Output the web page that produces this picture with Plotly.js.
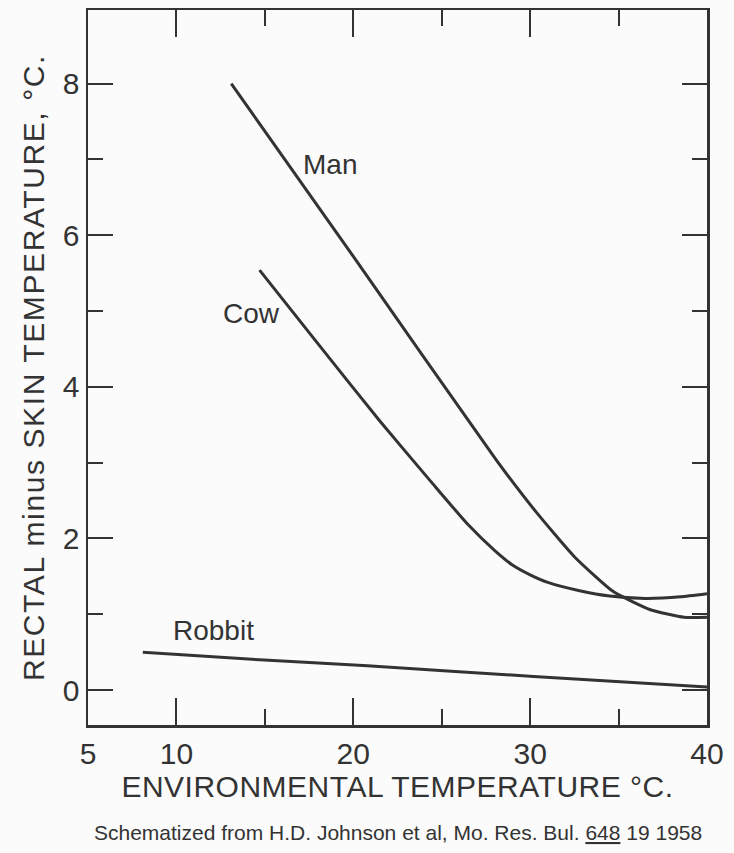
<!DOCTYPE html>
<html>
<head>
<meta charset="utf-8">
<script src="https://cdn.plot.ly/plotly-3.0.1.min.js"></script>
<style>html,body{margin:0;padding:0;background:#fbfbfb;}</style>
</head>
<body>
<div id="chart" style="width:734px;height:853px;"></div>
<script>
// Environmental temperature (°C) and rectal minus skin temperature (°C)
const manX = [13.1, 20.0, 28.1, 30.3, 32.5, 34.7, 36.8, 38.7, 40.0];
const manY = [8.0, 5.72, 3.03, 2.36, 1.76, 1.30, 1.06, 0.96, 0.96];

const cowX = [14.7, 18.1, 21.5, 24.5, 26.5, 28.0, 29.0, 30.0, 31.0, 32.8, 34.5, 36.5, 38.5, 40.0];
const cowY = [5.54, 4.54, 3.55, 2.72, 2.18, 1.84, 1.65, 1.52, 1.42, 1.31, 1.24, 1.21, 1.23, 1.27];

const rabbitX = [8.1, 14.7, 20.8, 30.2, 40.0];
const rabbitY = [0.50, 0.40, 0.32, 0.18, 0.04];

const xTickVals = [5, 10, 20, 30, 40];
const xTickText = ['5', '10', '20', '30', '40'];
const xMinorVals = [15, 25, 35];
const yTickVals = [0, 2, 4, 6, 8];
const yTickText = ['0', '2', '4', '6', '8'];
const yMinorVals = [1, 3, 5, 7];

const curveLabels = [
  {text: 'Man', x: 18.67, y: 6.93},
  {text: 'Cow', x: 14.27, y: 4.97},
  {text: 'Robbit', x: 12.1, y: 0.79}
];

const FONT = '"Liberation Sans", Arial, sans-serif';
const INK = '#333333';

const lineStyle = {color: INK, width: 3, shape: 'spline', smoothing: 0.5};
const traces = [
  {x: manX, y: manY, name: 'Man', mode: 'lines', line: lineStyle},
  {x: cowX, y: cowY, name: 'Cow', mode: 'lines', line: lineStyle},
  {x: rabbitX, y: rabbitY, name: 'Robbit', mode: 'lines', line: lineStyle}
];

const axisCommon = {
  showline: true, linewidth: 2.5, linecolor: INK, mirror: 'ticks',
  ticks: 'inside', tickwidth: 2, tickcolor: INK,
  showgrid: false, zeroline: false, tickmode: 'array',
  tickfont: {family: FONT, size: 30, color: INK}
};

const layout = {
  width: 734, height: 853,
  margin: {l: 88, r: 27, t: 10, b: 128},
  paper_bgcolor: '#fbfbfb', plot_bgcolor: '#fbfbfb',
  showlegend: false,
  xaxis: Object.assign({}, axisCommon, {
    range: [5, 40], tickvals: xTickVals, ticktext: xTickText, ticklen: 27,
    minor: {tickmode: 'array', tickvals: xMinorVals, ticks: 'inside', ticklen: 16, tickwidth: 2, tickcolor: INK},
    title: {text: '<span style="letter-spacing:0.5px">ENVIRONMENTAL TEMPERATURE °C.</span>', standoff: 8,
            font: {family: FONT, size: 30, color: INK}}
  }),
  yaxis: Object.assign({}, axisCommon, {
    range: [-0.46, 8.97], tickvals: yTickVals, ticktext: yTickText, ticklen: 25,
    minor: {tickmode: 'array', tickvals: yMinorVals, ticks: 'inside', ticklen: 15, tickwidth: 2, tickcolor: INK},
    title: {text: '<span style="letter-spacing:1.6px">RECTAL minus SKIN TEMPERATURE, °C.</span>', standoff: 10,
            font: {family: FONT, size: 30, color: INK}}
  }),
  annotations: curveLabels.map(l => ({
    x: l.x, y: l.y, xref: 'x', yref: 'y', text: l.text, showarrow: false,
    font: {family: FONT, size: 28, color: INK}
  })).concat([{
    xref: 'paper', yref: 'paper', x: 0.5, y: -0.151, xanchor: 'center', yanchor: 'middle',
    showarrow: false, text: 'Schematized from H.D. Johnson et al, Mo. Res. Bul. <u>648</u> 19 1958',
    font: {family: FONT, size: 21, color: INK}
  }])
};

Plotly.newPlot('chart', traces, layout, {displayModeBar: false, staticPlot: true});
</script>
</body>
</html>
